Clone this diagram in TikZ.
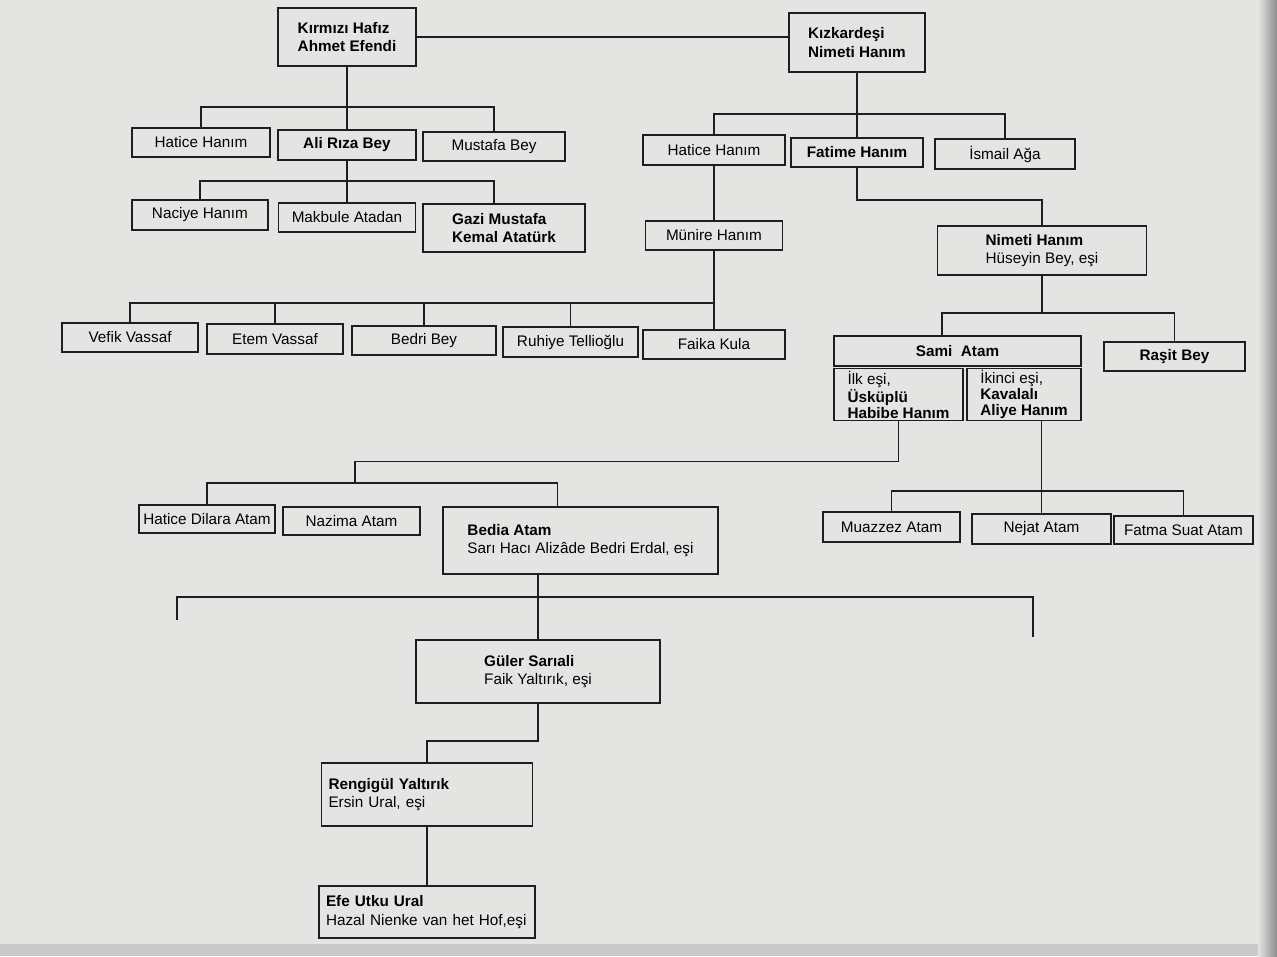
\documentclass[tikz,border=0pt]{standalone}
\usepackage{fontspec}
\setmainfont{Liberation Sans}
\definecolor{paper}{RGB}{228,228,226}
\definecolor{ink}{RGB}{30,30,30}

\begin{document}
\begin{tikzpicture}[x=0.2mm, y=-0.2mm,
    kutu/.style={draw=ink, line width=1.1pt, fill=paper, inner sep=1pt, align=left, font=\fontsize{8.7}{10.4}\selectfont},
    boy/.style 2 args={minimum width=#1*0.2mm, minimum height=#2*0.2mm},
    kalin/.style={font=\fontsize{8.7}{10.4}\selectfont\bfseries},
    sik/.style={font=\fontsize{8.7}{9}\selectfont},
    hat/.style={draw=ink, line width=1.1pt}]
    %%%%% START %%%%%

    \useasboundingbox (0,0) rectangle (1277,956);
    \fill[paper] (0,0) rectangle (1277,956);
    \fill[paper!88!black] (0,944) rectangle (1277,956);
    \shade[left color=paper, right color=black!45] (1258,0) rectangle (1277,956);

    % first generation
    \node[kutu, kalin, boy={138}{58}] (kirmizi) at (347,37) {Kırmızı Hafız\\Ahmet Efendi};
    \node[kutu, kalin, boy={136}{59}] (kizkardesi) at (857,42.5) {Kızkardeşi\\Nimeti Hanım};

    % children of Kırmızı Hafız
    \node[kutu, boy={138}{29}] (haticeA) at (201,142.5) {Hatice Hanım};
    \node[kutu, kalin, boy={138}{30}] (ali) at (347,145) {Ali Rıza Bey};
    \node[kutu, boy={142}{29}] (mustafa) at (494,146.5) {Mustafa Bey};

    \node[kutu, boy={136}{30}] (naciye) at (200,215) {Naciye Hanım};
    \node[kutu, boy={137}{29}] (makbule) at (347,217.5) {Makbule Atadan};
    \node[kutu, kalin, boy={162}{48}] (gazi) at (504,228) {Gazi Mustafa\\Kemal Atatürk};

    % children of Kızkardeşi
    \node[kutu, boy={142}{30}] (haticeB) at (714,150) {Hatice Hanım};
    \node[kutu, kalin, boy={132}{29}] (fatime) at (857,152.5) {Fatime Hanım};
    \node[kutu, boy={140}{30}] (ismail) at (1005,154) {İsmail Ağa};

    \node[kutu, boy={137}{29}] (munire) at (714,235.5) {Münire Hanım};
    \node[kutu, boy={209}{49}] (nimeti) at (1042,250.5) {{\bfseries Nimeti Hanım}\\Hüseyin Bey, eşi};

    \node[kutu, boy={136}{29}] (vefik) at (130,337.5) {Vefik Vassaf};
    \node[kutu, boy={136}{30}] (etem) at (275,339) {Etem Vassaf};
    \node[kutu, boy={144}{29}] (bedri) at (424,340.5) {Bedri Bey};
    \node[kutu, boy={135}{30}] (ruhiye) at (570.5,342) {Ruhiye Tellioğlu};
    \node[kutu, boy={142}{29}] (faika) at (714,344.5) {Faika Kula};

    % Sami Atam and his wives
    \node[kutu, kalin, boy={247}{30}] (sami) at (957.5,351) {Sami~~Atam};
    \node[kutu, kalin, boy={141}{29}] (rasit) at (1174.5,356.5) {Raşit Bey};
    \node[kutu, sik, boy={129}{52}] (habibe) at (898.5,394.5) {İlk eşi,\\{\bfseries Üsküplü}\\{\bfseries Habibe Hanım}};
    \node[kutu, sik, boy={114}{52}] (aliye) at (1024,394.5) {İkinci eşi,\\{\bfseries Kavalalı}\\{\bfseries Aliye Hanım}};

    \node[kutu, boy={136}{28}] (dilara) at (207,519) {Hatice Dilara Atam};
    \node[kutu, boy={137}{28}] (nazima) at (351.5,521) {Nazima Atam};
    \node[kutu, boy={275}{67}] (bedia) at (580.5,540.5) {{\bfseries Bedia Atam}\\Sarı Hacı Alizâde Bedri Erdal, eşi};

    \node[kutu, boy={137}{30}] (muazzez) at (891.5,527) {Muazzez Atam};
    \node[kutu, boy={139}{30}] (nejat) at (1041.5,529) {Nejat Atam};
    \node[kutu, boy={139}{28}] (fatma) at (1183.5,530) {Fatma Suat Atam};

    % down to the last generation
    \node[kutu, boy={244}{63}] (guler) at (538,671.5) {{\bfseries Güler Sarıali}\\Faik Yaltırık, eşi};
    \node[kutu, boy={211}{63}, text width=39.4mm] (rengigul) at (427,794.5) {{\bfseries Rengigül Yaltırık}\\Ersin Ural, eşi};
    \node[kutu, boy={216}{52}, text width=40.4mm] (efe) at (427,912) {{\bfseries Efe Utku Ural}\\Hazal Nienke van het Hof,eşi};

    % lines
    \draw[hat] (kirmizi.east) -- (kirmizi.east -| kizkardesi.west);

    \coordinate (busA) at (347,107);
    \draw[hat] (kirmizi.south) -- (ali.north);
    \draw[hat] (haticeA.north) |- (busA) -| (mustafa.north);

    \coordinate (busB) at (347,181);
    \draw[hat] (ali.south) -- (makbule.north);
    \draw[hat] (naciye.north) |- (busB) -| ([xshift=-2mm]gazi.north);

    \coordinate (busC) at (857,114);
    \draw[hat] (kizkardesi.south) -- (fatime.north);
    \draw[hat] (haticeB.north) |- (busC) -| (ismail.north);
    \draw[hat] (fatime.south) -- ++(0,32) -| (nimeti.north);
    \draw[hat] (haticeB.south) -- (munire.north);

    \coordinate (busD) at (714,303);
    \draw[hat] (munire.south) -- (faika.north);
    \draw[hat] (vefik.north) |- (busD);
    \foreach \n in {etem,bedri,ruhiye}
        \draw[hat] (\n.north) -- (\n.north |- busD);

    \coordinate (busE) at (1042,313);
    \draw[hat] (nimeti.south) -- (busE);
    \draw[hat] ([xshift=-3.1mm]sami.north) |- (busE) -| (rasit.north);

    \coordinate (busF) at (355,483);
    \draw[hat] (habibe.south) -- ++(0,40) -| (busF);
    \draw[hat] (dilara.north) |- (busF) -| ([xshift=-4.6mm]bedia.north);

    \coordinate (busG) at (1041.5,491);
    \draw[hat] (nejat.north |- aliye.south) -- (nejat.north);
    \draw[hat] (muazzez.north) |- (busG) -| (fatma.north);

    \coordinate (busH) at (538,597);
    \coordinate (ucL) at (177,620);
    \coordinate (ucR) at (1033,637);
    \draw[hat] (guler.north |- bedia.south) -- (guler.north);
    \draw[hat] (ucL) |- (busH) -| (ucR);

    \draw[hat] (guler.south) -- ++(0,37) -| (rengigul.north);
    \draw[hat] (rengigul.south) -- (efe.north);

    %%%%% END %%%%%
\end{tikzpicture}
\end{document}
